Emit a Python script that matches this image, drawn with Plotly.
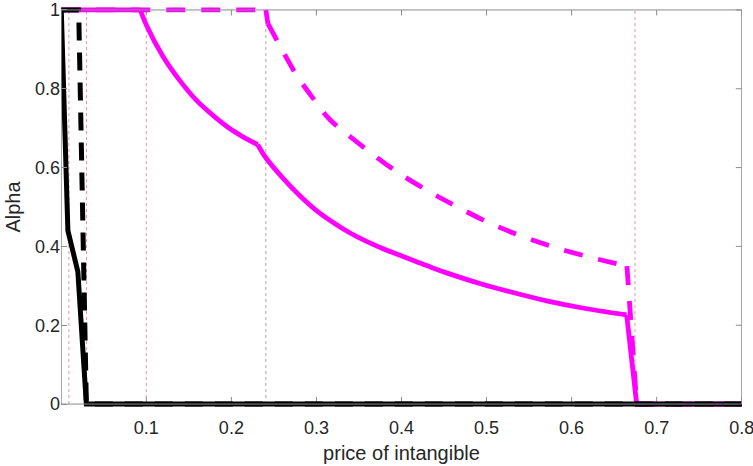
import plotly.graph_objects as go

# --- data -------------------------------------------------------------
# magenta solid curve
mag_solid_x = [0.0, 0.093, 0.1, 0.1196, 0.139, 0.1588, 0.178, 0.198, 0.2137,
               0.231, 0.2405, 0.2603, 0.2799, 0.299, 0.3188, 0.338, 0.3576,
               0.377, 0.3966, 0.4163, 0.436, 0.4556, 0.492, 0.531, 0.5706,
               0.6098, 0.6647, 0.6765, 0.8]
mag_solid_y = [1.0, 1.0, 0.962, 0.882, 0.822, 0.771, 0.733, 0.699, 0.678,
               0.658, 0.625, 0.574, 0.530, 0.493, 0.462, 0.436, 0.414,
               0.3955, 0.379, 0.3625, 0.346, 0.331, 0.306, 0.283, 0.262,
               0.245, 0.226, 0.0, 0.0]
mag_solid_corners = [1, 9, 26]   # indices where the curve has a kink

# magenta dashed curve
mag_dash_x = [0.0, 0.2405, 0.243, 0.253, 0.2765, 0.296, 0.3157, 0.3459,
              0.3927, 0.4318, 0.4607, 0.5, 0.539, 0.578, 0.621, 0.665,
              0.6765, 0.8]
mag_dash_y = [1.0, 1.0, 0.965, 0.925, 0.835, 0.776, 0.722, 0.668,
              0.592, 0.540, 0.506, 0.463, 0.428, 0.399, 0.373, 0.35,
              0.0, 0.0]
mag_dash_corners = [1, 2, 15]

# black solid curve
blk_solid_x = [0.0, 0.0078, 0.0195, 0.0295, 0.8]
blk_solid_y = [1.0, 0.44, 0.336, 0.0, 0.0]

# black dashed curve
blk_dash_x = [0.0, 0.0205, 0.0295, 0.8]
blk_dash_y = [1.0, 1.0, 0.0, 0.0]

# vertical reference markers (position, colour)
ref_x = [0.009, 0.0297, 0.1, 0.2405, 0.6745]
ref_colors = ["rgba(225,70,110,0.6)", "rgba(225,70,110,0.6)",
              "rgba(225,70,110,0.6)", "rgba(110,110,110,0.6)",
              "rgba(225,70,110,0.6)"]

x_ticks = [0.1, 0.2, 0.3, 0.4, 0.5, 0.6, 0.7, 0.8]
x_tick_text = ["0.1", "0.2", "0.3", "0.4", "0.5", "0.6", "0.7", "0.8"]
y_ticks = [0, 0.2, 0.4, 0.6, 0.8, 1]
y_tick_text = ["0", "0.2", "0.4", "0.6", "0.8", "1"]

X_RANGE = [-0.0003, 0.8003]
Y_RANGE = [-0.01, 1.01]

FONT = "Liberation Sans, Arial, Helvetica, sans-serif"
AXIS_GRAY = "#8c8c8c"
TEXT = "#262626"
MAGENTA = "#ff00ff"


def add_curve(fig, xs, ys, corners, line):
    """Draw a curve piecewise: straight pieces up to the first corner and
    after the last one, smooth splines between consecutive corners."""
    bounds = [0] + list(corners) + [len(xs) - 1]
    for k in range(len(bounds) - 1):
        a, b = bounds[k], bounds[k + 1]
        smooth = 0 < k < len(bounds) - 2 and (b - a) > 1
        fig.add_trace(go.Scatter(
            x=xs[a:b + 1], y=ys[a:b + 1], mode="lines",
            line=dict(line, shape="spline" if smooth else "linear",
                      smoothing=1.0 if smooth else None),
            showlegend=False, hoverinfo="skip"))


def add_polyline(fig, xs, ys, line):
    fig.add_trace(go.Scatter(x=xs, y=ys, mode="lines", line=line,
                             showlegend=False, hoverinfo="skip"))


fig = go.Figure()

add_curve(fig, mag_solid_x, mag_solid_y, mag_solid_corners,
          dict(color=MAGENTA, width=4.8))
add_curve(fig, mag_dash_x, mag_dash_y, mag_dash_corners,
          dict(color=MAGENTA, width=4.8, dash="19px,16px"))
add_polyline(fig, blk_solid_x, blk_solid_y, dict(color="black", width=5))
add_polyline(fig, blk_dash_x, blk_dash_y,
             dict(color="black", width=5, dash="18px,12px"))

shapes = []
# dotted vertical markers
for xv, col in zip(ref_x, ref_colors):
    shapes.append(dict(type="line", xref="x", yref="y", x0=xv, x1=xv,
                       y0=0, y1=1, layer="below",
                       line=dict(color=col, width=1, dash="dot")))
# axes box
shapes.append(dict(type="rect", xref="x", yref="y", x0=0, x1=0.8, y0=0, y1=1,
                   layer="above", line=dict(color=AXIS_GRAY, width=1)))
# inward x ticks on bottom and top of the box
for xv in x_ticks:
    shapes.append(dict(type="line", xref="x", yref="y", x0=xv, x1=xv,
                       y0=0, y1=0.018, layer="below",
                       line=dict(color=AXIS_GRAY, width=1)))
    shapes.append(dict(type="line", xref="x", yref="y", x0=xv, x1=xv,
                       y0=1, y1=1 - 0.014, layer="below",
                       line=dict(color=AXIS_GRAY, width=1)))
# inward y ticks on the right side of the box
for yv in y_ticks:
    shapes.append(dict(type="line", xref="x", yref="y", x0=0.8, x1=0.8 - 0.007,
                       y0=yv, y1=yv, layer="below",
                       line=dict(color=AXIS_GRAY, width=1)))

fig.update_layout(
    width=753, height=466,
    margin=dict(l=61, r=11, t=6, b=58, autoexpand=False),
    paper_bgcolor="white", plot_bgcolor="white",
    font=dict(family=FONT, color=TEXT, size=18),
    shapes=shapes,
    xaxis=dict(range=X_RANGE, tickmode="array", tickvals=x_ticks,
               ticktext=x_tick_text, ticks="outside", ticklen=3,
               tickcolor="rgba(0,0,0,0)", showgrid=False,
               automargin=False, zeroline=False, showline=False,
               ticklabeloverflow="allow",
               tickfont=dict(size=18, color=TEXT, family=FONT),
               title=dict(text="price of intangible",
                          font=dict(size=20, color=TEXT, family=FONT),
                          standoff=9)),
    yaxis=dict(range=Y_RANGE, tickmode="array", tickvals=y_ticks,
               ticktext=y_tick_text, ticks="inside", ticklen=6,
               tickcolor=AXIS_GRAY, showgrid=False, automargin=False,
               zeroline=False, showline=False,
               tickfont=dict(size=18, color=TEXT, family=FONT),
               title=dict(text="Alpha",
                          font=dict(size=20, color=TEXT, family=FONT),
                          standoff=8)),
)

fig.write_html("out.html")
